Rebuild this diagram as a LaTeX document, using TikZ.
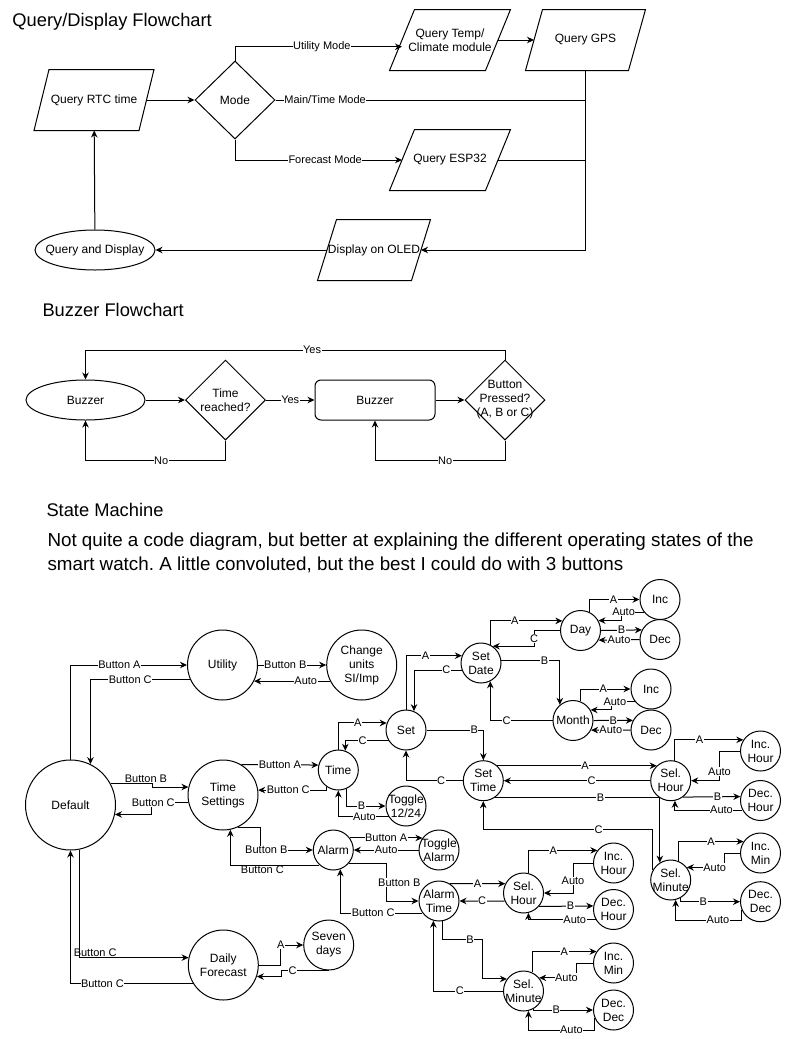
\documentclass[tikz,border=0pt]{standalone}
\usepackage{fontspec}
\setmainfont{Liberation Sans}
\usetikzlibrary{shapes.geometric,arrows.meta,calc}

\begin{document}
\frenchspacing
\begin{tikzpicture}[
  x=1pt,y=-1pt,
  line width=1pt,
  font=\fontsize{12}{14}\selectfont,
  lab/.style={font=\fontsize{11}{12}\selectfont,fill=white,inner sep=0.5pt},
  ttl/.style={font=\fontsize{18.3}{22}\selectfont,anchor=base west,inner sep=0pt},
  io/.style={minimum height=60pt,align=center,inner xsep=0pt,inner ysep=2pt},
  dec/.style={draw,diamond,align=center,inner sep=0pt,minimum width=80pt,minimum height=80pt},
  oval/.style={draw,ellipse,minimum height=40pt,inner xsep=-12pt,inner ysep=0pt},
  st/.style={draw,circle,align=center,inner sep=-2pt,minimum size=40pt},
  big/.style={st,minimum size=70pt},
  >={Stealth[length=7pt,width=6.5pt]}
]
\useasboundingbox (0,0) rectangle (785,1039);

% ---------------- query / display ----------------
\node[ttl] (t1) at (12,26) {Query/Display Flowchart};
\node[io,minimum width=104pt] (rtc) at (94,100) {Query RTC time};
\node[dec,minimum height=78pt] (mode) at (235,100) {Mode};
\node[io,minimum width=95pt] (temp) at (450,40) {Query Temp/\\Climate module};
\node[io,minimum width=102pt] (gps) at (585.5,40) {Query GPS};
\node[io,minimum width=95pt] (esp) at (450,160) {Query ESP32};
\node[io,minimum width=93pt] (oled) at (374,250) {Display on OLED};
% slanted outlines of the input/output boxes
\foreach \n/\s in {rtc/15,temp/25,gps/17,esp/25,oled/19}
  \draw ($(\n.north west)+(\s/2,0)$) -- ($(\n.north east)+(\s/2,0)$)
     -- ($(\n.south east)-(\s/2,0)$) -- ($(\n.south west)-(\s/2,0)$) -- cycle;
\node[oval,minimum width=120pt] (qd) at (95,250) {Query and Display};
\coordinate (jmain) at (gps.south |- mode.east);
\coordinate (jesp) at (gps.south |- esp);
\draw[->] (rtc) -- (mode);
\draw[->] (mode.north) |- node[lab,pos=0.76]{Utility Mode} (temp.188);
\draw[->] (temp) -- (gps);
\draw (mode.east) -- node[lab,pos=0.16]{Main/Time Mode} (jmain);
\draw[->] (mode.south) |- node[lab,pos=0.77]{Forecast Mode} (esp);
\draw (esp) -- (jesp);
\draw[->] (gps.south) |- (oled);
\draw[->] (oled) -- (qd);
\draw[->] (qd) -- (rtc);

% ---------------- buzzer ----------------
\node[ttl] (t2) at (42,316) {Buzzer Flowchart};
\node[oval,minimum width=119pt] (bz) at (85.5,400) {Buzzer};
\node[dec] (treach) at (225.5,400) {Time\\reached?};
\node[draw,rounded corners=6pt,minimum width=120pt,minimum height=40pt] (bon) at (375,400) {Buzzer};
\node[dec,inner sep=-5pt] (bpress) at (505,400) {Button\\Pressed?\\(A, B or C)};
\draw[->] (bz) -- (treach);
\draw[->] (treach) -- node[lab]{Yes} (bon);
\draw[->] (bon) -- (bpress);
\draw[->] (bpress.north) -- ++(0,-9.3) -| node[lab,pos=0.23]{Yes} (bz.north);
\draw[->] (treach.south) -- ++(0,20) -| node[lab,pos=0.23]{No} (bz.south);
\draw[->] (bpress.south) -- ++(0,20) -| node[lab,pos=0.23]{No} (bon.south);

% ---------------- state machine ----------------
\node[ttl] (t3) at (46,516.5) {State Machine};
\node[anchor=north west,inner sep=0pt,align=left,font=\fontsize{18.8}{24}\selectfont] (note) at (47,532.5)
     {Not quite a code diagram, but better at explaining the different operating states of the\\smart watch. A little convoluted, but the best I could do with 3 buttons};

\node[st,minimum size=90pt] (deflt) at (70.5,805) {Default};
\node[big] (util) at (222.5,665) {Utility};
\node[big] (units) at (361.7,665) {Change\\units\\SI/Imp};
\node[big] (tset) at (223,795) {Time\\Settings};
\node[big] (fcast) at (223.3,965) {Daily\\Forecast};
\node[st,minimum size=50pt] (seven) at (328.7,945) {Seven\\days};
\node[st] (tm) at (338.3,770) {Time};
\node[st] (setn) at (406,730) {Set};
\node[st] (tog) at (406,806) {Toggle\\12/24};
\node[st] (alarm) at (333.3,850) {Alarm};
\node[st] (talarm) at (439,850) {Toggle\\Alarm};
\node[st] (sdate) at (481,663) {Set\\Date};
\node[st] (day) at (580.5,630.5) {Day};
\node[st] (dinc) at (660,599.5) {Inc};
\node[st] (ddec) at (660,639.5) {Dec};
\node[st] (month) at (573,720.5) {Month};
\node[st] (minc) at (651,689) {Inc};
\node[st] (mdec) at (651,730) {Dec};
\node[st] (stime) at (483.3,780.7) {Set\\Time};
\node[st] (shour) at (670.7,780.7) {Sel.\\Hour};
\node[st] (ihour) at (760.5,751) {Inc.\\Hour};
\node[st] (dhour) at (760.5,800.5) {Dec.\\Hour};
\node[st] (smin) at (670.7,880) {Sel.\\Minute};
\node[st] (imin) at (760.5,853) {Inc.\\Min};
\node[st] (ddd) at (760.5,901.7) {Dec.\\Dec};
\node[st] (atime) at (439,901) {Alarm\\Time};
\node[st] (ashour) at (523.5,893) {Sel.\\Hour};
\node[st] (aihour) at (613.5,863) {Inc.\\Hour};
\node[st] (adhour) at (613.5,909.5) {Dec.\\Hour};
\node[st] (asmin) at (523.5,991) {Sel.\\Minute};
\node[st] (aimin) at (613.5,963) {Inc.\\Min};
\node[st] (addd) at (613.5,1010) {Dec.\\Dec};

% default <-> modes
\draw[->] (deflt.north) |- node[lab,pos=0.71]{Button A} (util.west);
\draw[->] (util.204) -| node[lab,pos=0.3]{Button C} (deflt.64);
\draw[->] (util.east) -- node[lab,pos=0.4]{Button B} (units.west);
\draw[->] (units.207) -- node[lab,pos=0.32]{Auto} (util.333);
\draw[->] (deflt.28) -- node[lab,fill=none,above,pos=0.85]{Button B} ++(41.5,0) |- (tset.167);
\draw[->] (tset.193) -- node[lab,pos=0.95]{Button C} ++(-37,0) |- (deflt.-12);
\draw[->] (tset.59) -- node[lab]{Button A} (tm.166);
\draw[->] (tm.235) |- node[lab,pos=0.78]{Button C} (tset.8);
\draw[->] (tset.-65) -- ++(22,0) |- node[lab,pos=0.56]{Button B} (alarm.west);
\draw[->] (alarm.227) -| node[lab,fill=none,below,pos=0.32]{Button C} (tset.-78);
\draw[->] (deflt.-78) |- node[lab,fill=none,above,pos=0.57]{Button C} (fcast.168);
\draw[->] (fcast.212) -| node[lab,pos=0.37]{Button C} (deflt.south);
\draw[->] (fcast.east) -- ++(22,0) |- node[lab,pos=0.5]{A} (seven.west);
\draw[->] (seven.south) -- node[lab,pos=0.77]{C} ++(-47,0) |- (fcast.-19);

% time
\draw[->] (tm.-65) |- node[lab,pos=0.69]{B} (tog.west);
\draw[->] (tog.212) -| node[lab,pos=0.24]{Auto} (tm.south);
\draw[->] (tm.north) |- node[lab,pos=0.7]{A} (setn.160);
\draw[->] (setn.212) -| node[lab,pos=0.3]{C} (tm.70);
\draw[->] (setn.east) -| node[lab,pos=0.42]{B} (stime.north);
\draw[->] (stime.west) -| node[lab,pos=0.19]{C} (setn.south);

% alarm
\draw[->] (alarm.36) -- node[lab]{Button A} (talarm.144);
\draw[->] (talarm.west) -- node[lab]{Auto} (alarm.east);
\draw[->] (alarm.-42) -- ++(37.8,0) |- node[lab,pos=0.25,xshift=13pt]{Button B} (atime.west);
\draw[->] (atime.216) -| node[lab,pos=0.3]{Button C} (alarm.-70);

% date
\draw[->] (setn.north) |- node[lab,pos=0.675]{A} (sdate.159);
\draw[->] (sdate.200) -| node[lab,pos=0.16]{C} (setn.67);
\draw[->] (sdate.63) |- node[lab,pos=0.67]{A} (day.152);
\draw[->] (day.west) -- ++(-26,0) |- node[lab,pos=0.25]{C} (sdate.55);
\draw[->] (sdate.7) -| node[lab,pos=0.37]{B} (month.130);
\draw[->] (month.west) -| node[lab,pos=0.37]{C} (sdate.-63);
\draw[->] (day.63) |- node[lab,pos=0.74]{A} (dinc.west);
\draw[->] (dinc.218) -- node[lab,pos=0.9]{Auto} ++(-22.5,0) |- (day.29);
\draw[->] (day.east) -- node[lab]{B} (ddec.152);
\draw[->] (ddec.west) -- node[lab]{Auto} (day.-28);
\draw[->] (month.70) |- node[lab,pos=0.73]{A} (minc.west);
\draw[->] (minc.217) -- node[lab,pos=0.85]{Auto} ++(-23.3,0) |- (month.31);
\draw[->] (month.east) -- node[lab]{B} (mdec.152);
\draw[->] (mdec.west) -- node[lab]{Auto} (month.-28);

% set time
\draw[->] (stime.47) -- node[lab,pos=0.55]{A} (shour.133);
\draw[->] (shour.west) -- node[lab,pos=0.4]{C} (stime.east);
\draw[->] (stime.-56) -| node[lab,pos=0.32]{B} (smin.122);
\draw[->] (smin.150) -- ++(0,-40) -| node[lab,pos=0.16]{C} (stime.south);
\draw[->] (shour.78) |- node[lab,pos=0.68]{A} (ihour.147);
\draw[->] (ihour.west) -- ++(-20.5,0) |- node[lab,pos=0.35]{Auto} (shour.east);
\draw[->] (shour.-53) -- node[lab,pos=0.6]{B} (dhour.169);
\draw[->] (dhour.208) -| node[lab,pos=0.155]{Auto} (shour.-78);
\draw[->] (smin.68) |- node[lab,pos=0.75]{A} (imin.146);
\draw[->] (imin.west) -- ++(-15.5,0) |- node[lab,pos=0.63]{Auto} (smin.38);
\draw[->] (smin.-60) |- node[lab,pos=0.69]{B} (ddd.west);
\draw[->] (ddd.204) -- ++(0,10) -| node[lab,pos=0.18]{Auto} (smin.-76);

% alarm time
\draw[->] (atime.58) -- node[lab]{A} (ashour.153);
\draw[->] (ashour.203) -- node[lab]{C} (atime.east);
\draw[->] (atime.-79) -- ++(0,18.7) -- node[lab,pos=0.68]{B} ++(39.9,0) |- (asmin.144);
\draw[->] (asmin.west) -| node[lab,pos=0.31]{C} (atime.-106);
\draw[->] (ashour.76) |- node[lab,pos=0.68]{A} (aihour.142);
\draw[->] (aihour.west) -- ++(-20,0) |- node[lab,pos=0.3]{Auto} (ashour.east);
\draw[->] (ashour.-41) -- node[lab,pos=0.58]{B} (adhour.170);
\draw[->] (adhour.209) -| node[lab,pos=0.155]{Auto} (ashour.-76);
\draw[->] (asmin.65) |- node[lab,pos=0.75]{A} (aimin.146);
\draw[->] (aimin.west) -- ++(-17,0) |- node[lab,pos=0.63]{Auto} (asmin.40);
\draw[->] (asmin.-60) |- node[lab,pos=0.69]{B} (addd.west);
\draw[->] (addd.203) -- ++(0,12.2) -| node[lab,pos=0.175]{Auto} (asmin.-76);
\end{tikzpicture}
\end{document}
